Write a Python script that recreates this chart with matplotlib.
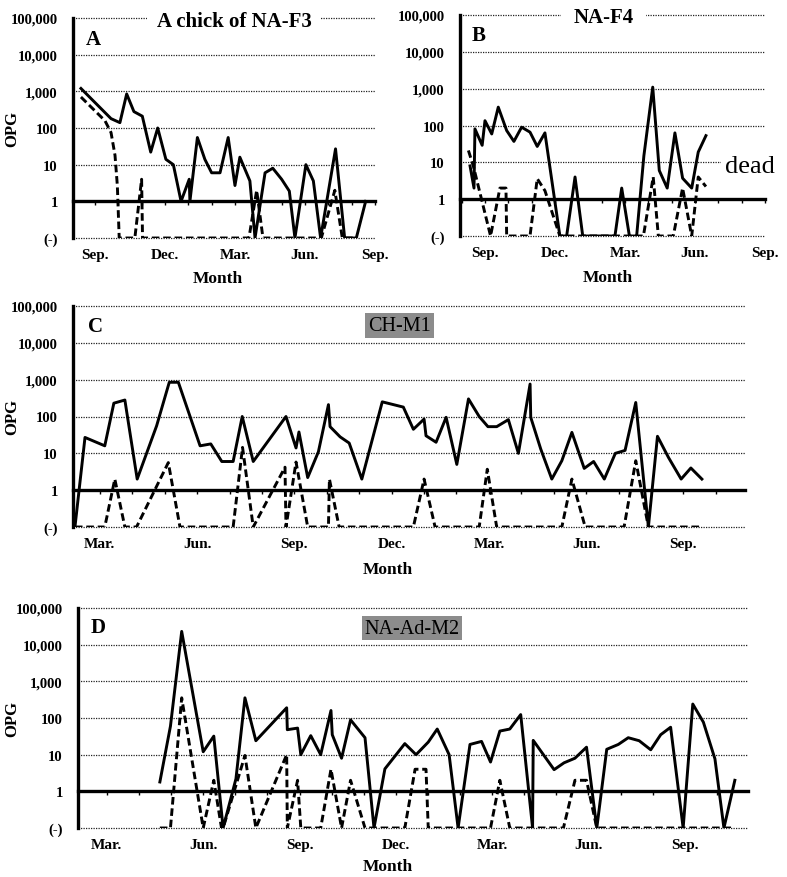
import matplotlib
matplotlib.use('Agg')
import matplotlib.pyplot as plt
from matplotlib.ticker import NullLocator, MultipleLocator

plt.rcParams['font.family'] = ['Liberation Serif', 'DejaVu Serif']
plt.rcParams['font.weight'] = 'bold'

# ---- axis categories ----
level_ticks = [0, 1, 10, 100, 1000, 10000, 100000]
level_labels = ['(-)', '1', '10', '100', '1,000', '10,000', '100,000']
ab_month_ticks = [0, 3, 6, 9, 12]
ab_month_labels = ['Sep.', 'Dec.', 'Mar.', 'Jun.', 'Sep.']
cd_month_ticks = [0, 3, 6, 9, 12, 15, 18]
cd_month_labels = ['Mar.', 'Jun.', 'Sep.', 'Dec.', 'Mar.', 'Jun.', 'Sep.']

# ---- Panel A: A chick of NA-F3 (x = months after Sep.) ----
a_solid_x = [-0.6, 0.69, 1.07, 1.36, 1.67, 2.03, 2.39, 2.69, 3.04, 3.36, 3.69, 4.04, 4.07,
             4.39, 4.71, 5.0, 5.36, 5.71, 6.0, 6.21, 6.64, 6.86, 7.29, 7.62, 8.0, 8.33,
             8.57, 9.04, 9.36, 9.67, 10.31, 10.7, 11.2, 11.6]
a_solid_v = [1200, 180, 140, 850, 280, 210, 22, 100, 14, 10, 1, 4, 1,
             55, 14, 6, 6, 55, 2.7, 16, 3.6, 0, 6, 8, 4, 1.9,
             0, 10, 3.6, 0, 27, 0, 0, 1]
a_dash_x = [-0.6, 0.43, 0.69, 0.86, 0.96, 1.04, 1.71, 2.0, 2.04, 6.6, 6.93, 7.2,
            9.7, 10.28, 10.6, 11.2]
a_dash_v = [700, 158, 75, 18, 2.7, 0, 0, 4, 0, 0, 2, 0,
            0, 2, 0, 0]

# ---- Panel B: NA-F4 ----
b_solid_x = [-0.64, -0.47, -0.43, -0.12, 0.0, 0.29, 0.57, 0.93, 1.24, 1.57, 1.93, 2.24,
             2.57, 3.21, 3.5, 3.86, 4.19, 5.57, 5.86, 6.19, 6.5, 6.81, 7.19, 7.47, 7.81,
             8.14, 8.47, 8.86, 9.14, 9.47]
b_solid_v = [8, 2, 81, 29, 135, 59, 315, 73, 37, 90, 66, 27,
             63, 0, 0, 4, 0, 0, 2, 0, 0, 15, 1100, 6, 2,
             63, 3.7, 2, 19, 53]
b_dash_x = [-0.71, -0.5, 0.24, 0.64, 0.9, 0.93, 1.93, 2.24, 2.57, 3.21, 6.79, 7.21,
            7.43, 8.07, 8.47, 8.86, 9.14, 9.47]
b_dash_v = [21, 8, 0, 2, 2, 0, 0, 3.6, 1.7, 0, 0, 4,
            0, 0, 2, 0, 4, 2.2]

# ---- Panel C: CH-M1 (x = months after Mar.) ----
c_solid_x = [-0.77, -0.46, 0.15, 0.43, 0.77, 1.15, 1.75, 2.14, 2.42, 3.09, 3.42, 3.76,
             4.11, 4.39, 4.73, 5.74, 6.05, 6.14, 6.41, 6.74, 7.05, 7.1, 7.41, 7.69, 8.08,
             8.71, 9.36, 9.67, 10.0, 10.06, 10.37, 10.68, 11.01, 11.37, 11.7, 11.97, 12.24,
             12.6, 12.91, 13.27, 13.29, 13.6, 13.94, 14.25, 14.56, 14.94, 15.23, 15.56,
             15.9, 16.2, 16.53, 16.92, 17.2, 17.54, 17.93, 18.23, 18.57]
c_solid_v = [0, 27, 16, 230, 280, 2, 56, 850, 850, 16, 18, 6,
             6, 100, 6, 100, 14, 38, 2.2, 11, 210, 53, 28, 19, 2,
             250, 180, 45, 85, 30, 20, 95, 5, 300, 100, 53, 53,
             82, 10, 760, 95, 13, 2, 6.3, 37, 3.9, 6, 2,
             10, 12, 240, 0, 29, 7.7, 2, 4, 2]
c_dash_x = [-0.77, 0.15, 0.46, 0.77, 1.13, 2.11, 2.47, 4.11, 4.4, 4.73, 5.71, 5.74,
            6.05, 6.41, 7.05, 7.08, 7.38, 9.67, 10.0, 10.34, 11.7, 11.95, 12.24, 14.25,
            14.56, 14.97, 16.17, 16.53, 16.92, 18.57]
c_dash_v = [0, 0, 2, 0, 0, 5.6, 0, 0, 14.5, 0, 4.2, 0,
            5.8, 0, 0, 2, 0, 0, 2, 0, 0, 3.7, 0, 0,
            2, 0, 0, 6.3, 0, 0]

# ---- Panel D: NA-Ad-M2 (x = months after Mar.) ----
d_solid_x = [1.65, 1.98, 2.33, 3.0, 3.33, 3.62, 4.02, 4.3, 4.64, 5.6, 5.62, 5.94, 6.04,
             6.35, 6.66, 6.98, 7.02, 7.31, 7.59, 8.04, 8.32, 8.66, 9.28, 9.63, 10.01,
             10.29, 10.66, 10.94, 11.31, 11.67, 11.95, 12.24, 12.55, 12.89, 13.26, 13.28,
             13.93, 14.24, 14.58, 14.94, 15.26, 15.57, 15.93, 16.24, 16.58, 16.94, 17.25,
             17.56, 17.95, 18.25, 18.58, 18.94, 19.22, 19.56]
d_solid_v = [1.8, 60, 23000, 12, 32, 0, 2.2, 355, 24, 190, 48, 53, 10,
             33, 10, 160, 35, 8, 89, 29, 0, 4.1, 20, 10, 22,
             50, 10, 0, 19, 23, 6.3, 44, 50, 124, 0, 24.5,
             3.9, 6, 8, 16, 0, 14, 19, 29, 24, 13.6, 35,
             56, 0, 240, 77, 7.7, 0, 2]
d_dash_x = [1.65, 1.98, 2.33, 3.0, 3.33, 3.57, 3.62, 4.3, 4.64, 5.6, 5.62, 5.94, 6.04,
            6.66, 6.98, 7.31, 7.59, 8.04, 9.28, 9.6, 9.94, 10.01, 11.95, 12.24, 12.55,
            14.22, 14.58, 14.94, 15.26, 19.5]
d_dash_v = [0, 0, 355, 0, 2, 0, 0, 9.5, 0, 10, 0, 2, 0,
            0, 4, 0, 2, 0, 0, 4, 4, 0, 0, 2, 0,
            0, 2, 2, 0, 0]

W, H = 787, 878
fig = plt.figure(figsize=(W / 100, H / 100), dpi=100)


def px_axes(l, t, r, b):
    return fig.add_axes([l / W, 1 - b / H, (r - l) / W, (b - t) / H])


def style(ax, xlim, xticks, xlabels, month_xy, opg_x=None):
    ax.set_yscale('symlog', linthresh=1, linscale=0.9)
    ax.set_ylim(0, 100000)
    ax.set_xlim(*xlim)
    ax.set_yticks(level_ticks, level_labels, fontweight='bold')
    ax.yaxis.set_minor_locator(NullLocator())
    ax.set_xticks(xticks, xlabels, fontweight='bold')
    ax.xaxis.set_minor_locator(MultipleLocator(1))
    ax.tick_params(axis='y', length=0, pad=11, labelsize=10.5)
    ax.tick_params(axis='x', which='both', bottom=False, top=True, labelbottom=True,
                   labeltop=False, direction='in', length=3, width=1.0, pad=7,
                   labelsize=11)
    for s in ['right', 'bottom']:
        ax.spines[s].set_visible(False)
    ax.spines['left'].set_linewidth(2.4)
    ax.spines['top'].set_position(('data', 1))
    ax.spines['top'].set_linewidth(2.4)
    for lv in level_ticks:
        if lv != 1:
            ax.axhline(lv, color='#222222', lw=0.9, ls=(0, (1, 1)), zorder=1, clip_on=False)
    ax.set_xlabel('Month', fontsize=12.5, fontweight='bold')
    ax.xaxis.set_label_coords(*month_xy)
    ax.xaxis.label.set_va('center')
    if opg_x is not None:
        ax.set_ylabel('OPG', fontsize=12, fontweight='bold')
        ax.yaxis.set_label_coords(opg_x, 0.5)
        ax.yaxis.label.set_va('center')
    ax.patch.set_alpha(0)


def draw(ax, sx, sv, dx, dv):
    ax.plot(sx, sv, color='black', lw=2.1, zorder=3)
    ax.plot(dx, dv, color='black', lw=2.1, ls=(0, (2.6, 1.3)), zorder=3)


# Panel A
axA = px_axes(73, 19, 375, 239)
style(axA, (-0.94, 12.001), ab_month_ticks, ab_month_labels, (0.48, -0.182), -0.202)
draw(axA, a_solid_x, a_solid_v, a_dash_x, a_dash_v)
axA.text(0.533, 0.985, 'A chick of NA-F3', transform=axA.transAxes, ha='center', va='center',
         fontsize=15, fontweight='bold', zorder=5,
         bbox=dict(facecolor='white', edgecolor='none', pad=7))
axA.text(0.066, 0.905, 'A', transform=axA.transAxes, ha='center', va='center',
         fontsize=15, fontweight='bold')

# Panel B
axB = px_axes(460, 16, 765, 237)
style(axB, (-1.07, 12.001), ab_month_ticks, ab_month_labels, (0.485, -0.186))
draw(axB, b_solid_x, b_solid_v, b_dash_x, b_dash_v)
axB.text(0.47, 0.99, 'NA-F4', transform=axB.transAxes, ha='center', va='center',
         fontsize=15, fontweight='bold', zorder=5,
         bbox=dict(facecolor='white', edgecolor='none', pad=9))
axB.text(0.06, 0.91, 'B', transform=axB.transAxes, ha='center', va='center',
         fontsize=15, fontweight='bold')
axB.text(0.95, 0.317, 'dead', transform=axB.transAxes, ha='center', va='center',
         fontsize=19, fontweight='normal', zorder=5, clip_on=False,
         bbox=dict(facecolor='white', edgecolor='none', pad=3))

# Panel C
axC = px_axes(73, 307, 745, 528)
style(axC, (-0.83, 19.9), cd_month_ticks, cd_month_labels, (0.469, -0.19), -0.091)
draw(axC, c_solid_x, c_solid_v, c_dash_x, c_dash_v)
axC.text(0.033, 0.91, 'C', transform=axC.transAxes, ha='center', va='center',
         fontsize=15, fontweight='bold')
axC.text(0.486, 0.911, 'CH-M1', transform=axC.transAxes, ha='center', va='center',
         fontsize=14.5, fontweight='normal', zorder=5,
         bbox=dict(facecolor='#8c8c8c', edgecolor='none', pad=2))

# Panel D
axD = px_axes(78, 609, 748, 829)
style(axD, (-0.9, 19.97), cd_month_ticks, cd_month_labels, (0.463, -0.175), -0.0985)
draw(axD, d_solid_x, d_solid_v, d_dash_x, d_dash_v)
axD.text(0.03, 0.914, 'D', transform=axD.transAxes, ha='center', va='center',
         fontsize=15, fontweight='bold')
axD.text(0.4985, 0.909, 'NA-Ad-M2', transform=axD.transAxes, ha='center', va='center',
         fontsize=14.5, fontweight='normal', zorder=5,
         bbox=dict(facecolor='#8c8c8c', edgecolor='none', pad=2))

fig.savefig('out.png', dpi=100)
